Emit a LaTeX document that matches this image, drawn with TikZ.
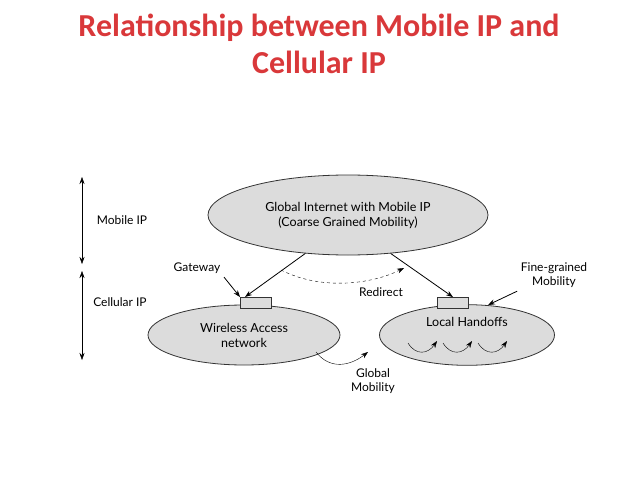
\documentclass[tikz,border=0pt]{standalone}
\usepackage{fontspec}
\setmainfont{Lato}
\newfontfamily\titlefont{Carlito}
\usetikzlibrary{shapes.geometric,arrows.meta,positioning}
\definecolor{titlered}{HTML}{D9383A}
\definecolor{cloudgray}{HTML}{DCDCDC}
\tikzset{%
  cloud node/.style={
    ellipse,
    draw=black!80,
    fill=cloudgray,
    align=center,
    font=\fontsize{12.5}{15}\selectfont
  },
  gate box/.style={
    draw=black!80,
    fill=cloudgray,
    minimum width=31pt,
    minimum height=11pt,
    inner sep=0pt
  },
  label text/.style={
    align=center,
    font=\fontsize{12}{14}\selectfont
  },
}

\begin{document}
\begin{tikzpicture}[x=1pt, y=-1pt, >={Stealth[length=7pt,width=5pt]}, thick]
\useasboundingbox (0,0) rectangle (638,479);

% title
\node [text=titlered, font=\titlefont\bfseries\fontsize{32}{37}\selectfont, align=center] (title) at (319,44)
  {Relationship between Mobile IP and\\Cellular IP};

% clouds
\node [cloud node, minimum width=280pt, minimum height=80pt] (internet) at (348,215)
  {Global Internet with Mobile IP\\(Coarse Grained Mobility)};
\node [cloud node, minimum width=192pt, minimum height=60pt] (wan) at (244,335)
  {Wireless Access\\network};
\node [cloud node, minimum width=175pt, minimum height=60pt] (local) at (467,335)
  {Local Handoffs\\[12pt]};

% gateways
\node [gate box] (gate-1) at (256,303) {};
\node [gate box] (gate-2) at (453,303) {};

% side scale
\coordinate (scale-top) at (82,177);
\coordinate (scale-mid1) at (82,264);
\coordinate (scale-mid2) at (82,271);
\coordinate (scale-bot) at (82,360);
\draw [<->, thin] (scale-top) -- (scale-mid1);
\draw [<->, thin] (scale-mid2) -- (scale-bot);
\node [label text] (mobile-ip) at (122,220) {Mobile IP};
\node [label text] (cellular-ip) at (120,302) {Cellular IP};

% routes
\coordinate (gate-1-in) at (245,297);
\draw [->] (internet.222) -- (gate-1-in);
\draw [->] (internet.318) -- (gate-2.north);
\coordinate (redirect-a) at (281,270);
\coordinate (redirect-b) at (404,268);
\draw [->, dashed, thin] (redirect-a) .. controls (320,290) and (370,285) .. (redirect-b);
\node [label text] (redirect) at (381,292) {Redirect};

\node [label text] (gateway) at (197,268) {Gateway};
\draw [->] (gateway.south east) -- (gate-1.north west);
\node [label text] (fine) at (554,275) {Fine-grained\\Mobility};
\draw [->] (fine.south west) -- (488,305);

\coordinate (global-a) at (316,352);
\coordinate (global-b) at (368,352);
\draw [->, thin] (global-a) .. controls (330,370) and (350,366) .. (global-b);
\node [label text] (global) at (373,381) {Global\\Mobility};

% local hops
\foreach \s in {408,443,478}
  \draw [->, thin] (\s,343) .. controls (\s+8,356) and (\s+20,354) .. (\s+29,341);

\end{tikzpicture}
\end{document}
